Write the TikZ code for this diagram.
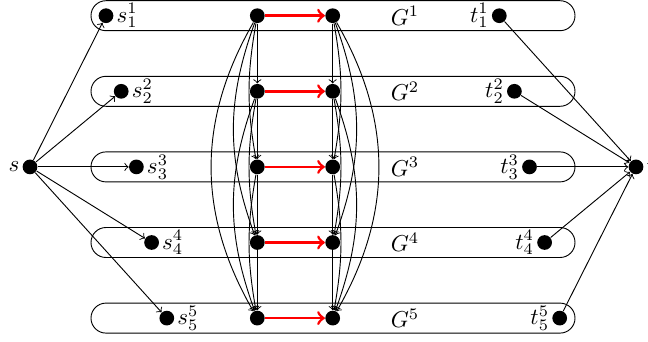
\documentclass[tikz,border=0pt]{standalone}
\begin{document}
\begin{tikzpicture}[x=0.4347pt,y=-0.4347pt,
  dot/.style={circle,fill=black,inner sep=0pt,minimum size=6.4pt},
  gbox/.style={draw,rounded corners=6.5pt},
  lab/.style={inner sep=1pt},
  redarrow/.style={->,red,very thick}]
\useasboundingbox (0,0) rectangle (648,342);
\foreach \i in {1,...,5}{
  \pgfmathsetmacro\y{15.7+75.6*(\i-1)}
  \pgfmathsetmacro\sx{106+15.2*(\i-1)}
  \pgfmathsetmacro\tx{499.3+15.1*(\i-1)}
  \draw[gbox] (91,\y-15) rectangle (575,\y+15);
  \node[dot,label={[lab]right:$s^{\i}_{\i}$}] (s\i) at (\sx,\y) {};
  \node[dot,label={[lab]left:$t^{\i}_{\i}$}] (t\i) at (\tx,\y) {};
  \node[dot] (a\i) at (257.3,\y) {};
  \node[dot] (b\i) at (332.7,\y) {};
  \node (g\i) at (405,\y) {$G^{\i}$};
  \draw[redarrow] (a\i) -- (b\i);
}
\node[dot,label={[lab]left:$s$}] (s) at (30,166.9) {};
\node[dot,label={[lab]right:$t$}] (t) at (636,166.9) {};
\foreach \i in {1,...,5}{
  \draw[->] (s) -- (s\i);
  \draw[->] (t\i) -- (t);
}
\foreach \i in {1,...,4}{
  \pgfmathtruncatemacro\ip{\i+1}
  \foreach \j in {\ip,...,5}{
    \pgfmathtruncatemacro\b{10*(\j-\i-1)}
    \draw[->] (a\i) to[bend right=\b] (a\j);
    \draw[->] (b\i) to[bend left=\b] (b\j);
  }
}
\end{tikzpicture}
\end{document}
